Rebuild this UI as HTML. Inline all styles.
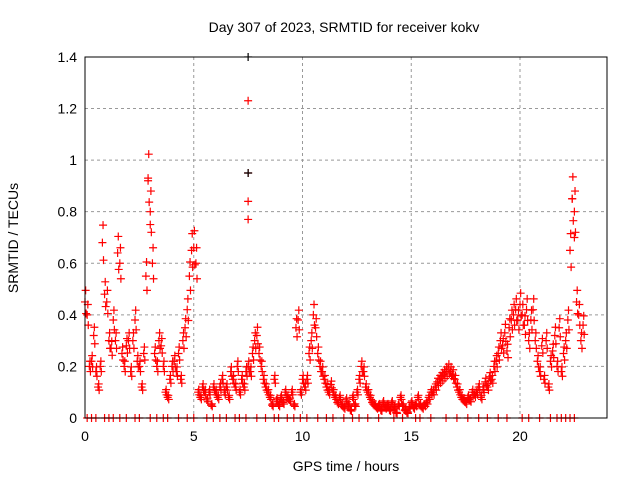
<!DOCTYPE html>
<html><head><meta charset="utf-8"><style>
body{margin:0;background:#fff;}
svg text{font-family:"Liberation Sans",sans-serif;font-size:14px;fill:#000;}
</style></head><body>
<svg id="chart" width="640" height="480">
<defs><clipPath id="pc"><rect x="80" y="52" width="532" height="371"/></clipPath></defs>
<text x="344" y="32" text-anchor="middle">Day 307 of 2023, SRMTID for receiver kokv</text>
<text x="346" y="471" text-anchor="middle">GPS time / hours</text>
<text x="0" y="0" transform="translate(18,238) rotate(-90)" text-anchor="middle">SRMTID / TECUs</text>
<g id="grid"></g>
<g id="ticks"></g>
<g id="marks" clip-path="url(#pc)"></g>
<rect x="85" y="57" width="522" height="361" fill="none" stroke="#000" stroke-width="1"/>
</svg>
<script>
const xTicks=[0,5,10,15,20];
const yTicks=[0,0.2,0.4,0.6,0.8,1,1.2,1.4];
const yTickLabels=["0","0.2","0.4","0.6","0.8","1","1.2","1.4"];
const startHour=0, stepHour=0.1;
const values=[0.45,0.4,0.2,0.22,0.32,0.18,0.12,0.2,0.68,0.48,0.45,0.3,0.27,0.38,0.3,0.64,0.6,0.25,0.2,0.28,
0.3,0.18,0.3,0.38,0.22,0.2,0.12,0.25,0.55,0.93,0.8,0.6,0.25,0.2,0.3,0.28,0.2,0.1,0.08,0.15,
0.2,0.22,0.18,0.25,0.15,0.3,0.35,0.42,0.55,0.65,0.66,0.6,0.1,0.08,0.12,0.1,0.07,0.1,0.05,0.12,
0.1,0.08,0.12,0.15,0.1,0.12,0.08,0.18,0.15,0.12,0.2,0.1,0.15,0.12,0.18,0.2,0.18,0.25,0.3,0.32,
0.25,0.2,0.15,0.12,0.1,0.08,0.05,0.15,0.07,0.05,0.08,0.06,0.1,0.08,0.07,0.1,0.05,0.35,0.38,0.1,
0.15,0.12,0.15,0.25,0.3,0.4,0.35,0.25,0.2,0.18,0.15,0.12,0.1,0.13,0.1,0.08,0.06,0.08,0.05,0.04,
0.07,0.05,0.03,0.08,0.05,0.1,0.15,0.2,0.18,0.12,0.1,0.08,0.06,0.05,0.04,0.05,0.03,0.06,0.04,0.05,
0.03,0.06,0.04,0.02,0.05,0.08,0.05,0.03,0.02,0.04,0.06,0.04,0.05,0.08,0.05,0.04,0.05,0.06,0.08,0.1,
0.1,0.12,0.14,0.15,0.16,0.17,0.18,0.19,0.18,0.17,0.15,0.12,0.1,0.08,0.07,0.06,0.08,0.07,0.1,0.09,
0.1,0.12,0.08,0.11,0.14,0.12,0.16,0.15,0.2,0.22,0.25,0.3,0.28,0.33,0.26,0.35,0.38,0.4,0.42,0.38,
0.44,0.4,0.36,0.42,0.3,0.38,0.42,0.3,0.22,0.18,0.28,0.15,0.3,0.12,0.22,0.26,0.32,0.2,0.35,0.18,
0.25,0.3,0.38,0.65,0.85,0.8,0.45,0.4,0.3,0.36];
const outlierHours=[7.5,7.5,7.5,7.5,2.9,3.0,22.4,22.5];
const outlierValues=[1.23,0.95,0.84,0.77,0.92,0.75,0.85,0.7];
const zeroHours=[0.1,0.3,0.5,0.9,1.1,1.3,1.6,1.9,2.3,2.5,3.0,3.3,3.6,3.8,4.3,4.7,5.0,5.6,5.9,6.2,6.5,6.9,7.1,7.4,7.9,8.3,8.7,8.9,9.3,9.6,9.9,10.2,10.7,11.1,11.4,11.9,12.3,12.6,13.0,13.5,14.2,14.6,15.2,15.4,15.9,16.6,17.1,17.6,18.1,18.5,19.0,19.4,20.1,20.4,20.9,21.4,21.7,21.9,22.1,22.3,22.5];
const NS='http://www.w3.org/2000/svg';
const X=h=>85+h*21.75, Y=v=>418-v*257.9;
const grid=document.getElementById('grid'),ticks=document.getElementById('ticks'),marks=document.getElementById('marks');
function mk(tag,attrs,parent){const e=document.createElementNS(NS,tag);for(const k in attrs)e.setAttribute(k,attrs[k]);parent.appendChild(e);return e;}
xTicks.forEach(t=>{
  if(t>0){const l=mk('line',{x1:X(t),x2:X(t),y1:57,y2:418,stroke:'#999','stroke-dasharray':'3,3'},grid);
  
  }
  const tx=mk('text',{x:X(t),y:441,'text-anchor':'middle'},ticks);tx.textContent=t;
  
  
});
yTicks.forEach((t,i)=>{
  if(t>0&&t<1.4){const l=mk('line',{x1:85,x2:607,y1:Y(t),y2:Y(t),stroke:'#999','stroke-dasharray':'3,3'},grid);
  
  }
  const tx=mk('text',{x:77,y:Y(t)+5,'text-anchor':'end'},ticks);tx.textContent=yTickLabels[i];
  
  
});
function plus(h,v,col,name){
  const x=X(h),y=Y(v);
  const p=mk('path',{d:`M${x-4},${y}H${x+4}M${x},${y-4}V${y+4}`,stroke:col,'stroke-width':1.2,fill:'none'},marks);
  
  
}
zeroHours.forEach(h=>plus(h,0,'#f00','zero-point'));
values.forEach((v,i)=>{
  const h=startHour+i*stepHour;
  plus(h,v,'#f00','srmtid-point');
  plus(h+0.05,v*0.9,'#f00','srmtid-point');
  plus(h+0.03,v*1.1,'#f00','srmtid-point');
});
outlierHours.forEach((h,i)=>plus(h,outlierValues[i],'#f00','outlier-point'));
plus(7.5,1.4,'#000','black-point');
plus(7.5,0.95,'#000','black-point');
</script>
</body></html>
